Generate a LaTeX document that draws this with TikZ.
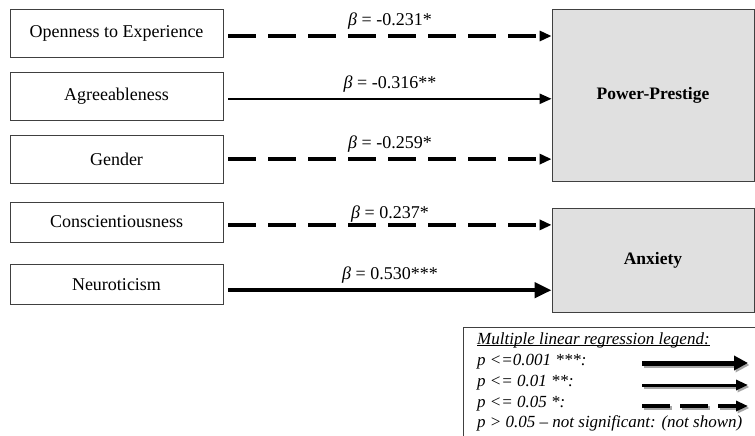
\documentclass[tikz,border=0pt]{standalone}
\usepackage{fontspec}
\setmainfont{Liberation Serif}
\usetikzlibrary{arrows.meta, positioning}

\begin{document}
\begin{tikzpicture}[x=1pt, y=-1pt, auto,
    predictor/.style={draw=black!75, line width=0.8pt, minimum width=213pt, minimum height=48pt, inner sep=0pt, font=\fontsize{18}{21}\selectfont},
    outcome/.style={draw=black!75, line width=0.8pt, fill=black!12, minimum width=202pt, inner sep=0pt, font=\fontsize{17.5}{21}\selectfont\bfseries},
    sigdash/.style={line width=3.5pt, dash pattern=on 28pt off 12pt, -{Triangle[length=12pt,width=10pt]}},
    sigtwo/.style={line width=2.2pt, -{Triangle[length=12pt,width=10pt]}},
    sigthree/.style={line width=4.5pt, -{Triangle[length=17pt,width=15pt]}},
    beta/.style={font=\fontsize{18}{21}\selectfont, inner sep=3pt, yshift=2pt},
    legtext/.style={anchor=west, inner sep=0pt, font=\fontsize{17}{20}\selectfont\itshape}]
    \useasboundingbox (0,0) rectangle (755,436);
    \clip (0,0) rectangle (755,436);

    % predictors
    \node[predictor] (open) at (116.5,33.5) {Openness to Experience};
    \node[predictor] (agree) [below=14pt of open] {Agreeableness};
    \node[predictor] (gender) [below=14pt of agree] {Gender};
    \node[predictor, minimum height=40pt] (consc) [below=18pt of gender] {Conscientiousness};
    \node[predictor, minimum height=40pt] (neuro) [below=22pt of consc] {Neuroticism};

    % outcomes
    \node[outcome, minimum height=172pt] (power) at (653,95) {Power-Prestige};
    \node[outcome, minimum height=104pt] (anxiety) at (653,260) {Anxiety};

    \coordinate (s1) at ([xshift=5pt,yshift=-2.5pt]open.east);
    \coordinate (s2) at ([xshift=5pt,yshift=-2.5pt]agree.east);
    \coordinate (s3) at ([xshift=5pt]gender.east);
    \coordinate (s4) at ([xshift=5pt,yshift=-3pt]consc.east);
    \coordinate (s5) at ([xshift=5pt,yshift=-5.5pt]neuro.east);

    \path
    (s1) edge[sigdash] node[beta] {\textit{β} = -0.231*} (s1 -| power.west)
    (s2) edge[sigtwo] node[beta] {\textit{β} = -0.316**} (s2 -| power.west)
    (s3) edge[sigdash] node[beta] {\textit{β} = -0.259*} (s3 -| power.west)
    (s4) edge[sigdash] node[beta, yshift=-4pt] {\textit{β} = 0.237*} (s4 -| anxiety.west)
    (s5) edge[sigthree] node[beta] {\textit{β} = 0.530***} (s5 -| anxiety.west);

    % legend
    \draw[black!75, line width=0.8pt] (463,327) rectangle (770,450);
    \node[legtext] (leghead) at (477,345) {\underline{\smash{Multiple linear regression legend:}}};
    \node[legtext] (leg1) at (477,362) {p <=0.001 ***:};
    \node[legtext] (leg2) at (477,383) {p <= 0.01 **:};
    \node[legtext] (leg3) at (477,404) {p <= 0.05 *:};
    \node[legtext] (leg4) at (477,423) {p > 0.05 – not significant: (not shown)};

    \coordinate (la1) at (642,363);  \coordinate (lb1) at (748,363);
    \coordinate (la2) at (642,385);  \coordinate (lb2) at (748,385);
    \coordinate (la3) at (642,406);  \coordinate (lb3) at (748,406);

    \draw[black!35, line width=5pt, -{Triangle[length=14pt,width=14pt]}] ([shift={(1.5,2)}]la1) -- ([shift={(1.5,2)}]lb1);
    \draw[black!35, line width=3pt, -{Triangle[length=12pt,width=10pt]}] ([shift={(1.5,2)}]la2) -- ([shift={(1.5,2)}]lb2);
    \draw[black!35, line width=3.5pt, dash pattern=on 28pt off 10pt, -{Triangle[length=12pt,width=10pt]}] ([shift={(1.5,2)}]la3) -- ([shift={(1.5,2)}]lb3);

    \draw[line width=5pt, -{Triangle[length=14pt,width=14pt]}] (la1) -- (lb1);
    \draw[line width=3pt, -{Triangle[length=12pt,width=10pt]}] (la2) -- (lb2);
    \draw[line width=3.5pt, dash pattern=on 28pt off 10pt, -{Triangle[length=12pt,width=10pt]}] (la3) -- (lb3);
\end{tikzpicture}
\end{document}
